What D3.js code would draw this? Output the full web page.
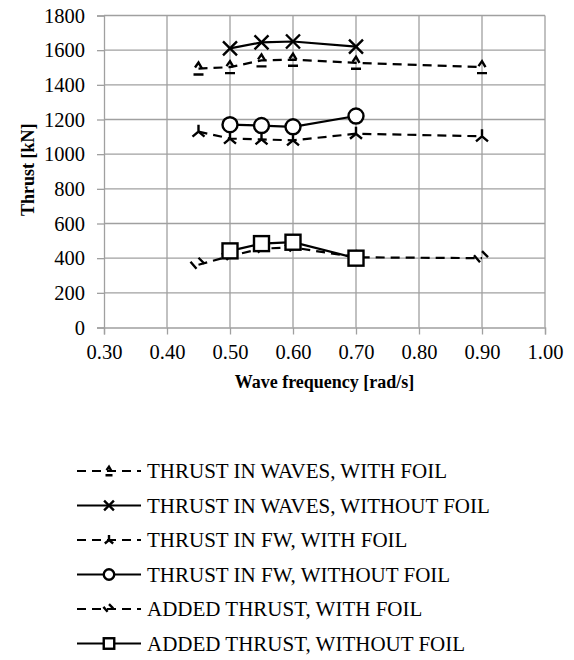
<!DOCTYPE html>
<html><head><meta charset="utf-8">
<script src="https://cdn.jsdelivr.net/npm/d3@7"></script>
<style>body{margin:0;background:#fff}svg{display:block}</style>
</head><body>
<svg id="c" width="574" height="660"></svg>
<script>
const freqFoil = [0.45, 0.50, 0.55, 0.60, 0.70, 0.90];
const freqNoFoil = [0.50, 0.55, 0.60, 0.70];
const wavesWithFoil = [1494, 1502, 1541, 1545, 1527, 1502];
const wavesWithoutFoil = [1610, 1645, 1650, 1620];
const fwWithFoil = [1130, 1090, 1085, 1080, 1118, 1103];
const fwWithoutFoil = [1170, 1165, 1158, 1220];
const addedWithFoil = [362, 412, 455, 462, 405, 400];
const addedWithoutFoil = [442, 484, 492, 400];
const xTicks = [0.30, 0.40, 0.50, 0.60, 0.70, 0.80, 0.90, 1.00];
const yTicks = [0, 200, 400, 600, 800, 1000, 1200, 1400, 1600, 1800];
const seriesNames = ["THRUST IN WAVES, WITH FOIL","THRUST IN WAVES, WITHOUT FOIL","THRUST IN FW, WITH FOIL","THRUST IN FW, WITHOUT FOIL","ADDED THRUST, WITH FOIL","ADDED THRUST, WITHOUT FOIL"];

const series = [
  {name: seriesNames[0], x: freqFoil, y: wavesWithFoil, dashed: true, marker: "caret"},
  {name: seriesNames[1], x: freqNoFoil, y: wavesWithoutFoil, dashed: false, marker: "x"},
  {name: seriesNames[2], x: freqFoil, y: fwWithFoil, dashed: true, marker: "tri"},
  {name: seriesNames[3], x: freqNoFoil, y: fwWithoutFoil, dashed: false, marker: "circle"},
  {name: seriesNames[4], x: freqFoil, y: addedWithFoil, dashed: true, marker: "slash"},
  {name: seriesNames[5], x: freqNoFoil, y: addedWithoutFoil, dashed: false, marker: "square"}
];

const FONT = "Liberation Serif, Times New Roman, serif";
const svg = d3.select("#c");
const x = d3.scaleLinear().domain([0.30, 1.00]).range([104, 545]);
const y = d3.scaleLinear().domain([0, 1800]).range([327.5, 15.5]);
const grid = "#a0a0a0";

// grid
svg.append("g").selectAll("line").data(yTicks.filter(d=>d>0)).join("line")
  .attr("x1", x(0.30)).attr("x2", x(1.00)).attr("y1", d=>y(d)).attr("y2", d=>y(d))
  .attr("stroke", grid).attr("stroke-width", 1.3);
svg.append("g").selectAll("line").data(xTicks.filter(d=>d>0.3)).join("line")
  .attr("x1", d=>x(d)).attr("x2", d=>x(d)).attr("y1", y(0)).attr("y2", y(1800))
  .attr("stroke", grid).attr("stroke-width", 1.3);

// axes
const yAxis = d3.axisLeft(y).tickValues(yTicks).tickSize(7).tickPadding(12).tickFormat(d3.format("d"));
const gy = svg.append("g").attr("transform", `translate(${x(0.30)},0)`).call(yAxis);
const xAxis = d3.axisBottom(x).tickValues(xTicks).tickSize(7).tickPadding(10).tickFormat(d3.format(".2f"));
const gx = svg.append("g").attr("transform", `translate(0,${y(0)})`).call(xAxis);
[gx, gy].forEach(g => {
  g.attr("font-family", FONT).attr("font-size", 20.5);
  g.select(".domain").attr("stroke", grid).attr("stroke-width", 1.3);
  g.selectAll(".tick line").attr("stroke", grid).attr("stroke-width", 1.3);
  g.selectAll("text").attr("font-family", FONT).attr("font-size", 20.5).attr("fill", "#000");
});

svg.append("text").attr("x", x(0.65)).attr("y", 388).attr("text-anchor", "middle")
  .attr("font-family", FONT).attr("font-size", 18).attr("font-weight", "bold").text("Wave frequency [rad/s]");
svg.append("text").attr("transform", `translate(34,${y(910)}) rotate(-90)`).attr("text-anchor", "middle")
  .attr("font-family", FONT).attr("font-size", 18).attr("font-weight", "bold").text("Thrust [kN]");

function drawMarker(g, type, scale) {
  const s = scale || 1;
  if (type === "x") {
    g.append("path").attr("d", `M${-7*s},${-7*s}L${7*s},${7*s}M${7*s},${-7*s}L${-7*s},${7*s}`)
      .attr("stroke", "#000").attr("stroke-width", 2.4).attr("fill", "none");
  } else if (type === "circle") {
    g.append("circle").attr("r", 7.5*s).attr("fill", "#fff").attr("stroke", "#000").attr("stroke-width", 2.4);
  } else if (type === "square") {
    g.append("rect").attr("x", -7.5*s).attr("y", -7.5*s).attr("width", 15*s).attr("height", 15*s)
      .attr("fill", "#fff").attr("stroke", "#000").attr("stroke-width", 2.4);
  } else if (type === "caret") {
    g.append("path").attr("d", `M${-3.5*s},${-1*s}L${0},${-6*s}L${3.5*s},${0}M${-5*s},${6*s}H${5*s}`)
      .attr("stroke", "#000").attr("stroke-width", 2.4).attr("fill", "none");
  } else if (type === "tri") {
    g.append("path").attr("d", `M0,${-7*s}V0M${-6*s},${5*s}L0,0L${6*s},${5*s}`)
      .attr("stroke", "#000").attr("stroke-width", 2.4).attr("fill", "none");
  } else if (type === "slash") {
    g.append("path").attr("d", `M${-8*s},${-3*s}L${-2*s},${4*s}M${0},${-7*s}L${6*s},${-1*s}`)
      .attr("stroke", "#000").attr("stroke-width", 2.4).attr("fill", "none");
  }
}

const line = d3.line().x(d=>x(d[0])).y(d=>y(d[1]));
series.forEach(s => {
  const pts = s.x.map((v,i)=>[v, s.y[i]]);
  svg.append("path").datum(pts).attr("d", line).attr("fill", "none").attr("stroke", "#000")
    .attr("stroke-width", 2.2).attr("stroke-dasharray", s.dashed ? "9,6" : null);
  svg.append("g").selectAll("g").data(pts).join("g")
    .attr("transform", d=>`translate(${x(d[0])},${y(d[1])})`)
    .each(function(){ drawMarker(d3.select(this), s.marker, 1); });
});

// legend
const leg = svg.append("g");
series.forEach((s, i) => {
  const cy = 471 + i * 34.5;
  const g = leg.append("g").attr("transform", `translate(0,${cy})`);
  g.append("line").attr("x1", 77).attr("x2", 141).attr("y1", 0).attr("y2", 0)
    .attr("stroke", "#000").attr("stroke-width", 2.2).attr("stroke-dasharray", s.dashed ? "9,6" : null);
  drawMarker(g.append("g").attr("transform", "translate(109,0)"), s.marker, 0.7);
  g.append("text").attr("x", 147).attr("y", 7).attr("font-family", FONT).attr("font-size", 21).text(s.name);
});
</script>
</body></html>
